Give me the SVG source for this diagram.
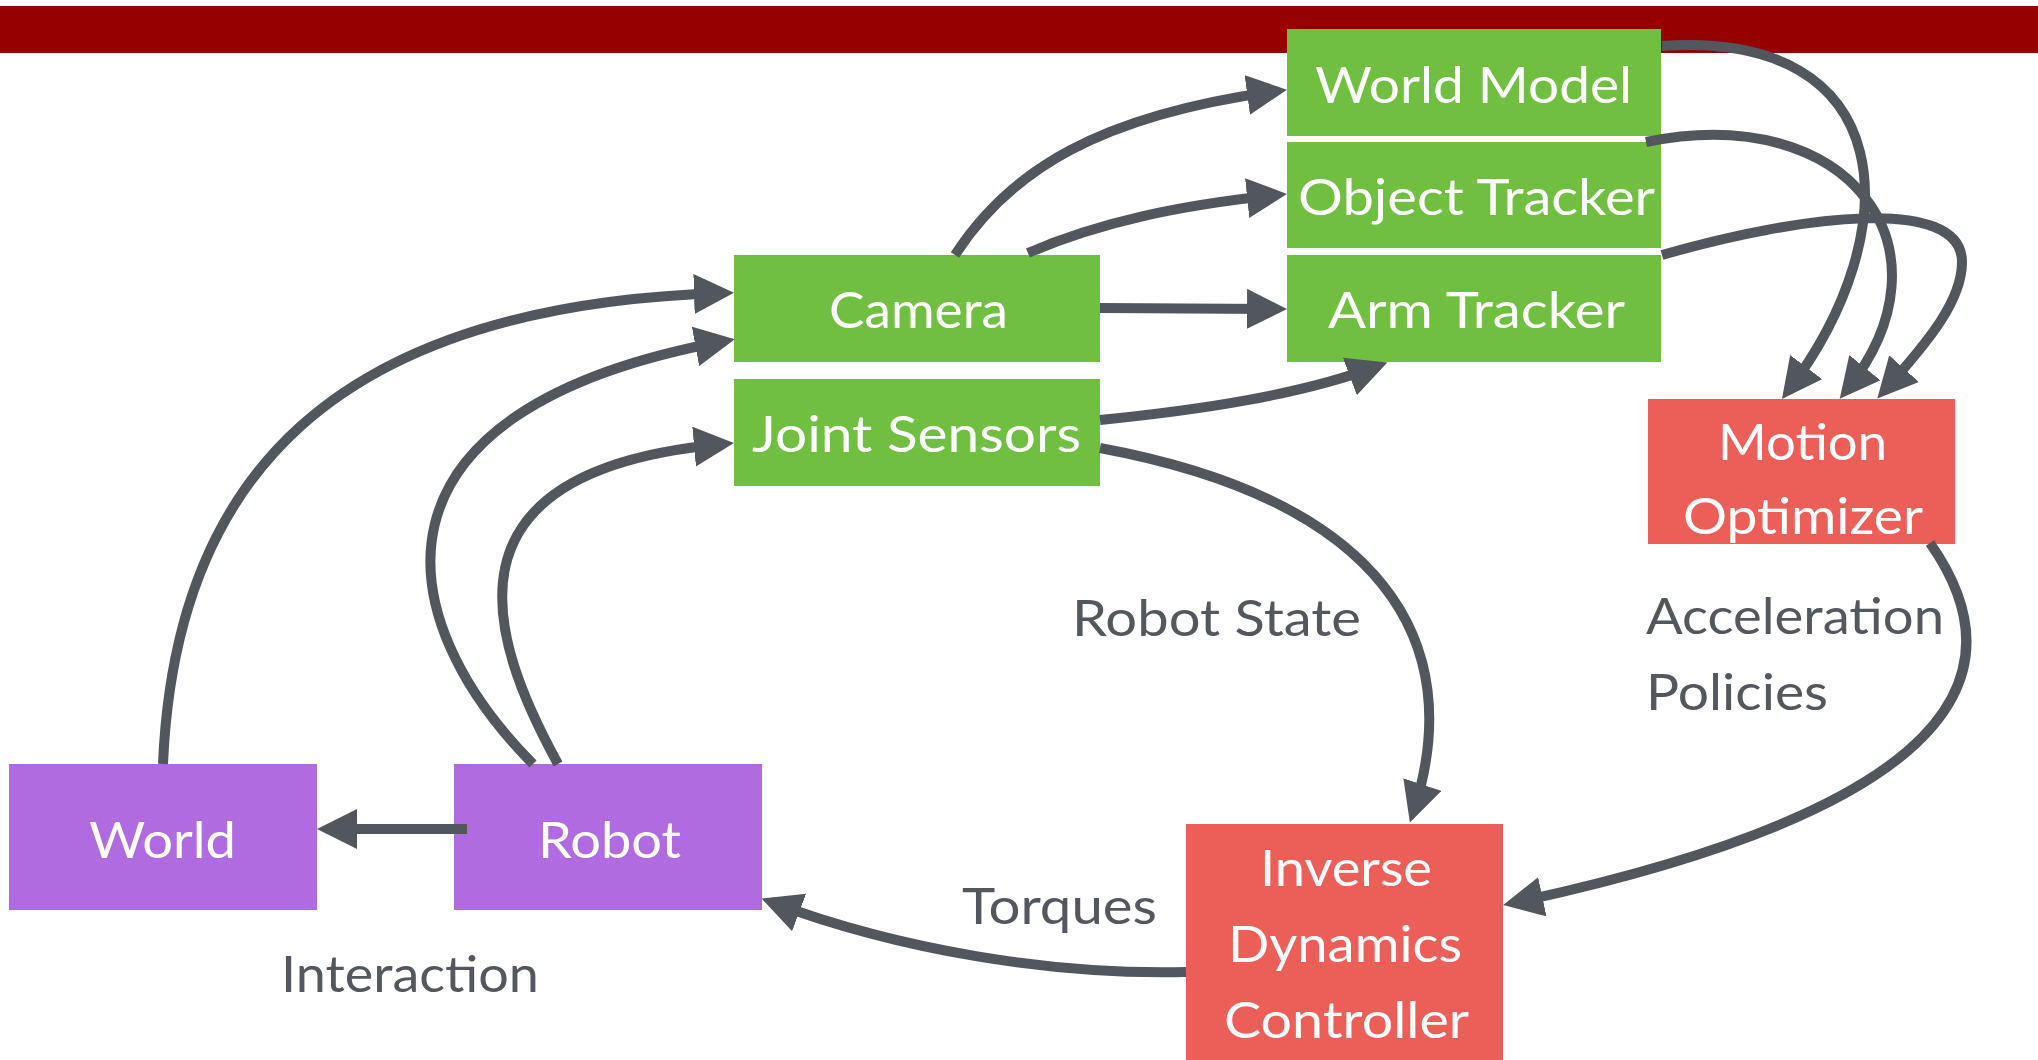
<svg xmlns="http://www.w3.org/2000/svg" width="2038" height="1060" viewBox="0 0 2038 1060">
<style>
.g{fill:#70bf41}.p{fill:#b06be0}.r{fill:#ec5f59}
.nt{font-family:Lato,"Open Sans","Liberation Sans",sans-serif;font-size:51px;fill:#ffffff}
.lb{font-family:Lato,"Open Sans","Liberation Sans",sans-serif;font-size:51px;fill:#53585f}
.c{fill:none;stroke:#52575e;stroke-width:10}
</style>
<defs>
<marker id="ah" viewBox="0 0 4 4" refX="3" refY="2" markerWidth="4" markerHeight="4" markerUnits="strokeWidth" orient="auto">
<path d="M0,0 L4,2 L0,4 z" fill="#52575e"/>
</marker>
</defs>
<rect x="0" y="6" width="2038" height="47" fill="#960000"/>
<g id="world-model"><rect class="g" x="1287" y="29" width="374" height="107"/><text class="nt" x="1315" y="103" textLength="317" lengthAdjust="spacingAndGlyphs">World Model</text></g>
<g id="object-tracker"><rect class="g" x="1287" y="142" width="374" height="106"/><text class="nt" x="1298" y="215" textLength="357" lengthAdjust="spacingAndGlyphs">Object Tracker</text></g>
<g id="arm-tracker"><rect class="g" x="1287" y="255" width="374" height="107"/><text class="nt" x="1328" y="328" textLength="297" lengthAdjust="spacingAndGlyphs">Arm Tracker</text></g>
<g id="camera"><rect class="g" x="734" y="255" width="366" height="107"/><text class="nt" x="829" y="328" textLength="179" lengthAdjust="spacingAndGlyphs">Camera</text></g>
<g id="joint-sensors"><rect class="g" x="734" y="379" width="366" height="107"/><text class="nt" x="752" y="452" textLength="329" lengthAdjust="spacingAndGlyphs">Joint Sensors</text></g>
<g id="motion-optimizer"><rect class="r" x="1648" y="399" width="307" height="145"/><text class="nt" x="1718" y="460" textLength="169" lengthAdjust="spacingAndGlyphs">Motion</text><text class="nt" x="1683" y="534" textLength="240" lengthAdjust="spacingAndGlyphs">Optimizer</text></g>
<g id="world"><rect class="p" x="9" y="764" width="308" height="146"/><text class="nt" x="89" y="858" textLength="147" lengthAdjust="spacingAndGlyphs">World</text></g>
<g id="robot"><rect class="p" x="454" y="764" width="308" height="146"/><text class="nt" x="538" y="858" textLength="143" lengthAdjust="spacingAndGlyphs">Robot</text></g>
<g id="inverse-dynamics-controller"><rect class="r" x="1186" y="824" width="317" height="236"/><text class="nt" x="1260" y="886" textLength="172" lengthAdjust="spacingAndGlyphs">Inverse</text><text class="nt" x="1228" y="962" textLength="234" lengthAdjust="spacingAndGlyphs">Dynamics</text><text class="nt" x="1224" y="1038" textLength="245" lengthAdjust="spacingAndGlyphs">Controller</text></g>
<g id="labels">
<text class="lb" x="1072" y="636" textLength="289" lengthAdjust="spacingAndGlyphs">Robot State</text>
<text class="lb" x="1646" y="634" textLength="298" lengthAdjust="spacingAndGlyphs">Acceleration</text>
<text class="lb" x="1646" y="710" textLength="182" lengthAdjust="spacingAndGlyphs">Policies</text>
<text class="lb" x="962" y="924" textLength="195" lengthAdjust="spacingAndGlyphs">Torques</text>
<text class="lb" x="281" y="992" textLength="258" lengthAdjust="spacingAndGlyphs">Interaction</text>
</g>
<g id="connectors">
<path class="c" marker-end="url(#ah)" d="M467,829 L327,829"/>
<path class="c" marker-end="url(#ah)" d="M163,764 C175,480 330,305 724,293"/>
<path class="c" marker-end="url(#ah)" d="M533,764 C390,620 350,410 725,341"/>
<path class="c" marker-end="url(#ah)" d="M558,764 C490,640 430,470 724,444"/>
<path class="c" marker-end="url(#ah)" d="M955,255 C1010,170 1100,115 1277,91"/>
<path class="c" marker-end="url(#ah)" d="M1028,253 C1100,222 1180,205 1277,195"/>
<path class="c" marker-end="url(#ah)" d="M1100,308 L1277,309"/>
<path class="c" marker-end="url(#ah)" d="M1100,420 C1200,410 1300,395 1378,366"/>
<path class="c" marker-end="url(#ah)" d="M1100,448 C1380,500 1470,640 1413,813"/>
<path class="c" marker-end="url(#ah)" d="M1930,543 C2040,700 1900,820 1513,903"/>
<path class="c" marker-end="url(#ah)" d="M1186,972 C1050,975 900,950 771,902"/>
<path class="c" marker-end="url(#ah)" d="M1662,46 C1900,30 1910,230 1788,391"/>
<path class="c" marker-end="url(#ah)" d="M1646,142 C1850,100 1960,250 1846,391"/>
<path class="c" marker-end="url(#ah)" d="M1662,255 C1800,215 1962,195 1962,262 C1962,300 1930,340 1884,391"/>
</g>
</svg>
